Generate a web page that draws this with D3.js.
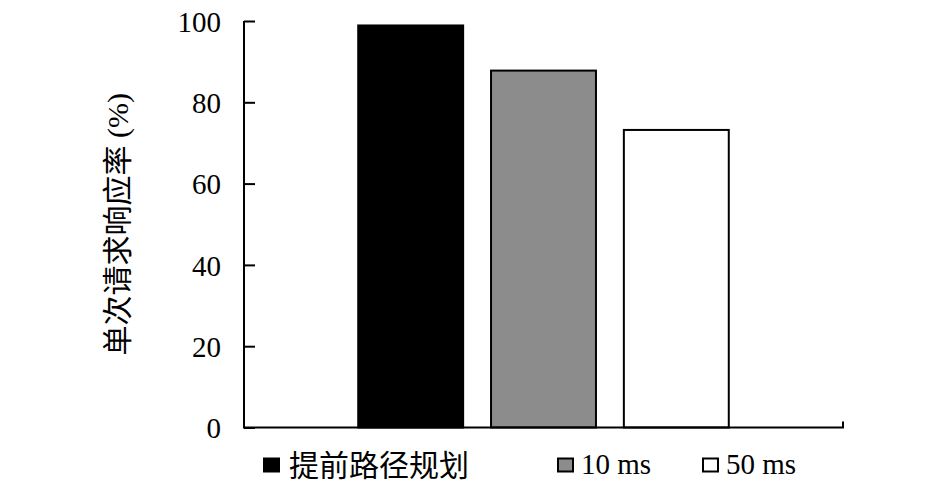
<!DOCTYPE html>
<html>
<head>
<meta charset="utf-8">
<script src="https://cdn.jsdelivr.net/npm/d3@7"></script>
<style>
  body { margin: 0; background: #fff; }
  text { font-family: "Liberation Serif", "Noto Sans CJK SC", serif; fill: #000; }
</style>
</head>
<body>
<div id="chart"></div>
<script>
// series (one category, three bars)
var seriesNames = ["提前路径规划", "10 ms", "50 ms"];
var seriesValues = [98.9, 87.8, 73.2];
var seriesColors = ["#000000", "#8c8c8c", "#ffffff"];
var yTicks = [0, 20, 40, 60, 80, 100];
var yLabel = "单次请求响应率 (%)";

var margin = { top: 21, right: 102, bottom: 59.5, left: 244 },
    width = 945 - margin.left - margin.right,
    height = 487 - margin.top - margin.bottom;

var svg = d3.select("#chart")
    .append("svg")
    .attr("width", 945)
    .attr("height", 487)
    .append("g")
    .attr("transform", "translate(" + margin.left + "," + margin.top + ")");

var x = d3.scaleBand()
    .domain(seriesNames)
    .range([0, width])
    .paddingInner(0.21)
    .paddingOuter(0.86);

var y = d3.scaleLinear()
    .domain([0, 100])
    .range([height, 0]);

// bars
svg.selectAll(".bar")
    .data(seriesNames)
    .enter()
    .append("rect")
    .attr("class", "bar")
    .attr("x", function(d) { return x(d); })
    .attr("width", x.bandwidth())
    .attr("y", function(d, i) { return y(seriesValues[i]); })
    .attr("height", function(d, i) { return height - y(seriesValues[i]); })
    .attr("fill", function(d, i) { return seriesColors[i]; })
    .attr("stroke", "#000")
    .attr("stroke-width", 2);

// y axis, ticks pointing inward
var yAxis = svg.append("g")
    .call(d3.axisRight(y).tickValues(yTicks).tickSize(11));
yAxis.select(".domain").attr("stroke-width", 2).attr("d", "M0," + height + "V0");
yAxis.selectAll(".tick line").attr("stroke-width", 2);
yAxis.selectAll(".tick text")
    .attr("text-anchor", "end")
    .attr("x", -23)
    .attr("dy", "0.35em")
    .style("font-size", "29px");

// x axis, ticks only at both ends
var xAxis = svg.append("g")
    .attr("transform", "translate(0," + height + ")");
xAxis.append("path")
    .attr("d", "M0,-6V0H" + width + "V-6")
    .attr("fill", "none")
    .attr("stroke", "#000")
    .attr("stroke-width", 2);

// y axis title
svg.append("text")
    .attr("transform", "translate(" + (-127) + "," + (height / 2) + ") rotate(-90)")
    .attr("text-anchor", "middle")
    .attr("dominant-baseline", "central")
    .style("font-size", "30px")
    .text(yLabel);

// legend
var legendX = [19, 313, 458];
var legend = svg.selectAll(".legend")
    .data(seriesNames)
    .enter()
    .append("g")
    .attr("class", "legend")
    .attr("transform", function(d, i) { return "translate(" + legendX[i] + "," + (height + 30) + ")"; });

legend.append("rect")
    .attr("x", 1)
    .attr("y", 1)
    .attr("width", 15)
    .attr("height", 13)
    .attr("fill", function(d, i) { return seriesColors[i]; })
    .attr("stroke", "#000")
    .attr("stroke-width", 2);

legend.append("text")
    .attr("x", function(d, i) { return i === 0 ? 26 : 24; })
    .attr("y", function(d, i) { return i === 0 ? 18 : 16; })
    .style("font-size", function(d, i) { return i === 0 ? "30px" : "29px"; })
    .text(function(d) { return d; });
</script>
</body>
</html>
